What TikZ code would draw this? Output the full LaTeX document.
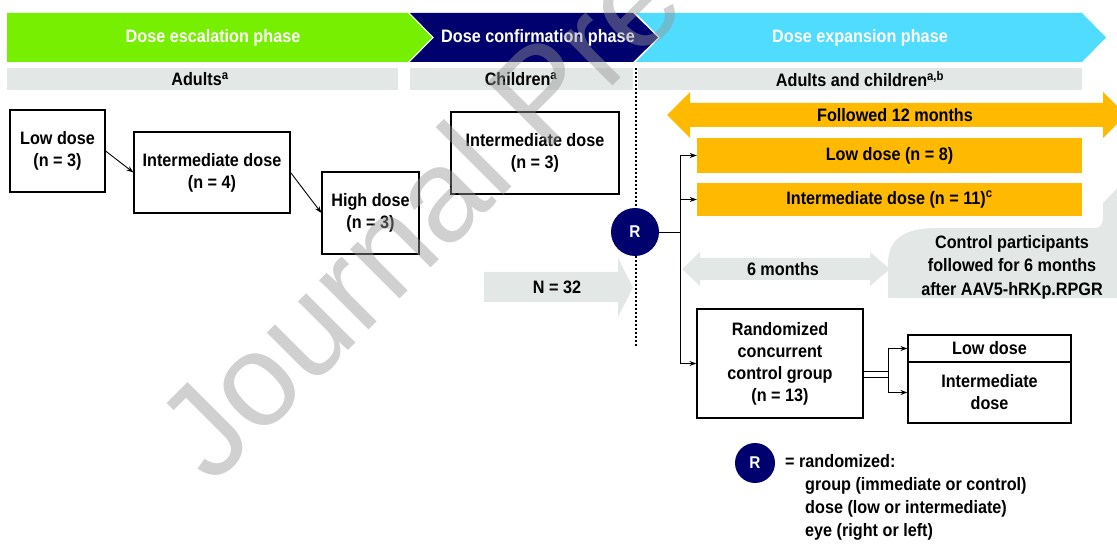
\documentclass[tikz,border=0pt]{standalone}
\usepackage{fontspec}
\setmainfont{Liberation Sans}[FakeStretch=0.9]
\newfontfamily\wmfont{Liberation Sans}
\usetikzlibrary{arrows.meta,calc}
\definecolor{cgreen}{RGB}{118,240,0}
\definecolor{cnavy}{RGB}{0,0,110}
\definecolor{ccyan}{RGB}{80,220,255}
\definecolor{cgrey}{RGB}{227,232,230}
\definecolor{corange}{RGB}{255,186,0}
\definecolor{cwm}{RGB}{150,150,150}
\begin{document}
\begin{tikzpicture}[x=1pt,y=-1pt,
  txt/.style={font=\fontsize{18}{22}\selectfont\bfseries, align=center, inner sep=0pt},
  wtxt/.style={txt, text=white},
  box/.style={txt, draw=black, line width=1.2pt},
  bar/.style={txt, fill=corange},
  line/.style={draw=black, line width=0.9pt},
  arr/.style={line, -{Stealth[length=7pt,width=5pt]}},
  rcirc/.style={circle, fill=cnavy, inner sep=0pt, text=white, font=\fontsize{17}{17}\selectfont\bfseries},
  legtxt/.style={txt, anchor=west, text height=13pt, text depth=4pt}
]
\useasboundingbox (0,0) rectangle (1117,545);
\clip (0,0) rectangle (1117,545);

% phase banners
\fill[cgreen] (7,13) -- (408,13) -- (432,37.5) -- (408,62) -- (7,62) -- cycle;
\fill[cnavy] (410,13) -- (633,13) -- (658,37.5) -- (633,62) -- (410,62) -- (434,37.5) -- cycle;
\fill[ccyan] (636,13) -- (1082,13) -- (1106,37.5) -- (1082,62) -- (636,62) -- (660,37.5) -- cycle;
\node[wtxt] (ph1) at (213,37.5) {Dose escalation phase};
\node[wtxt] (ph2) at (538,37.5) {Dose confirmation phase};
\node[wtxt] (ph3) at (860,37.5) {Dose expansion phase};

% population bars
\fill[cgrey] (7,68) rectangle (398,90);
\fill[cgrey] (410,68) rectangle (633,90);
\fill[cgrey] (638,68) rectangle (1082,90);
\node[txt] (pop1) at (200,79) {Adults\textsuperscript{a}};
\node[txt] (pop2) at (521,79) {Children\textsuperscript{a}};
\node[txt] (pop3) at (860,79) {Adults and children\textsuperscript{a,b}};

% escalation boxes
\node[box, minimum width=95pt, minimum height=82pt] (lowE) at (57.5,151) {Low dose\\(n = 3)};
\node[box, minimum width=156pt, minimum height=81pt] (intE) at (212,172.5) {Intermediate dose\\(n = 4)};
\node[box, minimum width=97pt, minimum height=82pt] (highE) at (370.5,213) {High dose\\(n = 3)};
\draw[arr] (lowE.east) -- (intE.west);
\draw[arr] (intE.east) -- (highE.west);

% confirmation box
\node[box, minimum width=168pt, minimum height=82pt] (intC) at (535,153) {Intermediate dose\\(n = 3)};

% N = 32 arrow
\fill[cgrey] (484,272) -- (618,272) -- (618,258) -- (633,287.5) -- (618,317) -- (618,302) -- (484,302) -- cycle;
\node[txt] (n32) at (557,287.5) {N = 32};

% dotted divider and randomization
\coordinate (dtop) at (636,68);
\coordinate (dbot) at (636,347);
\draw[line width=1.3pt, dash pattern=on 2pt off 2pt] (dtop) -- (dbot);
\node[rcirc, minimum size=48pt] (R) at (635,232) {R};

% expansion: followed 12 months
\fill[corange] (667,115) -- (690,92) -- (690,103) -- (1103,103) -- (1103,92) -- (1126,115) -- (1103,138) -- (1103,127) -- (690,127) -- (690,138) -- cycle;
\node[txt] (f12) at (895,115) {Followed 12 months};
\node[bar, minimum width=385pt, minimum height=35pt] (lowbar) at (889.5,155.5) {Low dose (n = 8)};
\node[bar, minimum width=385pt, minimum height=33pt] (intbar) at (889.5,199.5) {Intermediate dose (n = 11)\textsuperscript{c}};

% 6 months arrow
\fill[cgrey] (682,269) -- (700,252) -- (700,258) -- (870,258) -- (870,252) -- (890,269) -- (870,286) -- (870,280) -- (700,280) -- (700,286) -- cycle;
\node[txt] (m6) at (783,269) {6 months};

% control participants bent arrow
\fill[cgrey] (888,298) -- (888,264) .. controls (888,238) and (905,228) .. (937,228) -- (1095,228) .. controls (1100,228) and (1103,224) .. (1103,218) -- (1103,203) -- (1120,185) -- (1140,210) -- (1140,298) -- cycle;
\node[txt, font=\fontsize{18}{23.5}\selectfont\bfseries] (cp) at (1012,267) {Control participants\\followed for 6 months\\after AAV5-hRKp.RPGR};

% control group
\node[box, minimum width=166pt, minimum height=109pt] (ctrl) at (780,363.5) {Randomized\\concurrent\\control group\\(n = 13)};
\node[box, minimum width=163pt, minimum height=27pt] (rlow) at (989.5,348.5) {Low dose};
\node[box, minimum width=163pt, minimum height=61pt] (rint) at (989.5,392.5) {Intermediate\\dose};

% connectors from R
\coordinate (fork) at (680,232);
\draw[line] (R) -- (fork);
\draw[arr] (fork) |- (lowbar.west);
\draw[arr] (fork) |- (intbar.west);
\draw[arr] (fork) |- (ctrl.west);

% connectors from control group
\coordinate (fork2) at (888,374.5);
\draw[line, double, double distance=5.5pt] (ctrl.east |- fork2) -- (fork2);
\draw[arr] (fork2) |- (rlow.west);
\draw[arr] (fork2) |- (rint.west);

% legend
\node[rcirc, minimum size=40pt] (Rleg) at (755,463) {R};
\node[legtxt] (leg1) at (785,463) {= randomized:};
\node[legtxt] (leg2) at (805,486) {group (immediate or control)};
\node[legtxt] (leg3) at (805,509) {dose (low or intermediate)};
\node[legtxt] (leg4) at (805,532) {eye (right or left)};

% watermark
\node[font=\wmfont\fontsize{132}{132}\selectfont, text=cwm, text opacity=0.45, rotate=45, anchor=base west, inner sep=0pt] (wm) at (212,487) {Journal Pre-proof};
\end{tikzpicture}
\end{document}
